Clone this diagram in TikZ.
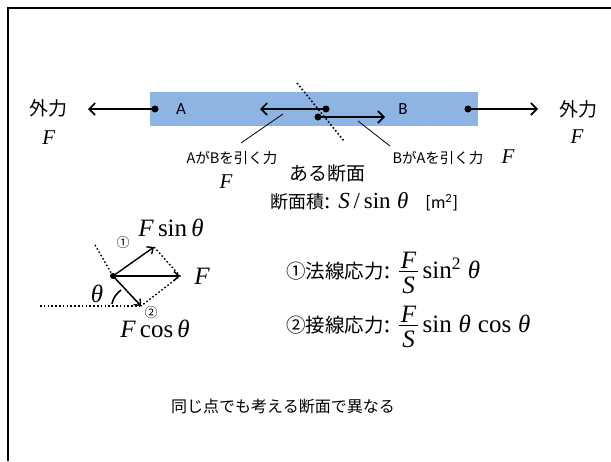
\documentclass[tikz,border=0pt]{standalone}
\usepackage{fontspec}
\setmainfont{Liberation Serif}
\newfontfamily\cjk{Noto Sans CJK JP}
\newfontfamily\lat{Carlito}
\usetikzlibrary{arrows.meta}
\definecolor{barblue}{RGB}{142,180,227}
\tikzset{
  force/.style={line width=1.6pt,-{Straight Barb[length=6pt,width=12pt,line width=1.6pt]}},
  vec/.style={line width=1.4pt,-{Straight Barb[length=5pt,width=9pt,line width=1.4pt]}},
  dotnode/.style={circle,fill=black,inner sep=0pt,minimum size=7pt},
  cutline/.style={line width=1.6pt,dash pattern=on 1.6pt off 2.2pt},
  leader/.style={line width=0.8pt},
  jlarge/.style={font=\cjk\fontsize{19}{22}\selectfont,inner sep=0pt},
  jsmall/.style={font=\cjk\fontsize{14.5}{17}\selectfont,inner sep=0pt},
  mtext/.style={font=\fontsize{25}{28}\selectfont,inner sep=0pt},
  ftext/.style={font=\fontsize{21}{24}\selectfont,inner sep=0pt},
  latl/.style={font=\lat\fontsize{17}{20}\selectfont,inner sep=0pt},
  circnum/.style={inner sep=0pt,font=\cjk\fontsize{13}{15}\selectfont},
}
\newcommand{\vF}{\textit{F}}
\newcommand{\vS}{\textit{S}}
\newcommand{\vth}{\textit{θ}}
\newcommand{\FoverS}{\raisebox{-0.5pt}{$\vcenter{\offinterlineskip\halign{\hfil\kern2pt##\kern2pt\hfil\cr \vF\cr\noalign{\kern3pt\hrule height0.8pt\kern5pt}\vS\cr}}$}}
\begin{document}
\begin{tikzpicture}[x=1pt,y=-1pt]
\useasboundingbox (0,0) rectangle (611,461);
% frame
\draw[line width=1.6pt] (611,8) -- (8,8) -- (8,461);
% bar
\fill[barblue] (150,92) rectangle (478,126);
\node[latl] (A) at (181,109) {A};
\node[latl] (B) at (403,109) {B};
% dots and tips
\node[dotnode] (dL) at (155,109) {};
\coordinate (tL) at (88,109);
\node[dotnode] (dM1) at (326,109) {};
\coordinate (tM1) at (260,109);
\node[dotnode] (dM2) at (318,117) {};
\coordinate (tM2) at (385,117);
\node[dotnode] (dR) at (468,109) {};
\coordinate (tR) at (538,109);
\draw[force] (dL.center) -- (tL);
\draw[force] (dM1.center) -- (tM1);
\draw[force] (dM2.center) -- (tM2);
\draw[force] (dR.center) -- (tR);
% cut plane
\coordinate (c1) at (297,83);
\coordinate (c2) at (344,141);
\draw[cutline] (c1) -- (c2);
% leaders
\coordinate (l1a) at (283,114);
\coordinate (l1b) at (241,143);
\coordinate (l2a) at (358,121);
\coordinate (l2b) at (390,146);
\draw[leader] (l1a) -- (l1b);
\draw[leader] (l2a) -- (l2b);
% labels
\node[jlarge] (gL) at (48,108) {外力};
\node[ftext] (FL) at (49,138) {\vF};
\node[jlarge] (gR) at (578,109) {外力};
\node[ftext] (FR) at (577,137) {\vF};
\node[jsmall] (ab) at (232,158) {AがBを引く力};
\node[ftext] (Fab) at (226,182) {\vF};
\node[jsmall] (ba) at (438,158) {BがAを引く力};
\node[ftext] (Fba) at (508,157) {\vF};
\node[jlarge] (sec) at (327,173) {ある断面};
\node[anchor=west,inner sep=0pt,font=\fontsize{23}{26}\selectfont] (area) at (270,202)
  {{\cjk\fontsize{18}{21}\selectfont 断面積}: \vS\,/\,sin\;\vth\ \ \ {\lat\fontsize{18}{21}\selectfont [m\textsuperscript{2}]}};
% vector diagram
\node[dotnode,minimum size=6pt] (O) at (113,276) {};
\coordinate (pF) at (180,276);
\coordinate (pN) at (154,247);
\coordinate (pT) at (141,306);
\coordinate (pc) at (95,245);
\coordinate (hL) at (40,306);
\draw[cutline,line width=1.4pt] (pc) -- (O.center) -- (pT);
\draw[cutline,line width=1.4pt] (pN) -- (pF) -- (pT);
\draw[cutline,line width=1.4pt] (hL) -- (pT);
\draw[vec] (O.center) -- (pF);
\draw[vec] (O.center) -- (pN);
\draw[vec] (O.center) -- (pT);
\draw[line width=1.6pt] (112,304) .. controls (113,298) and (116,294) .. (121,290);
\node[mtext] (th) at (97,294) {\vth};
\node[circnum] (n1) at (123,243) {①};
\node[circnum] (n2) at (151,313) {②};
\node[mtext] (Fsin) at (171,228) {\vF\,sin\,\vth};
\node[mtext] (Fh) at (202,276) {\vF};
\node[mtext] (Fcos) at (155,329) {\vF\,cos\,\vth};
% formulas
\node[anchor=west,inner sep=0pt,font=\fontsize{25}{28}\selectfont] (f1) at (286,273)
  {{\cjk\fontsize{19.5}{22}\selectfont ①法線応力}: \FoverS\,sin\textsuperscript{2}\;\vth};
\node[anchor=west,inner sep=0pt,font=\fontsize{25}{28}\selectfont] (f2) at (286,327)
  {{\cjk\fontsize{19.5}{22}\selectfont ②接線応力}: \FoverS\,sin\;\vth\;cos\;\vth};
\node[inner sep=0pt,font=\cjk\fontsize{16}{19}\selectfont] (concl) at (283,406) {同じ点でも考える断面で異なる};
\end{tikzpicture}
\end{document}
